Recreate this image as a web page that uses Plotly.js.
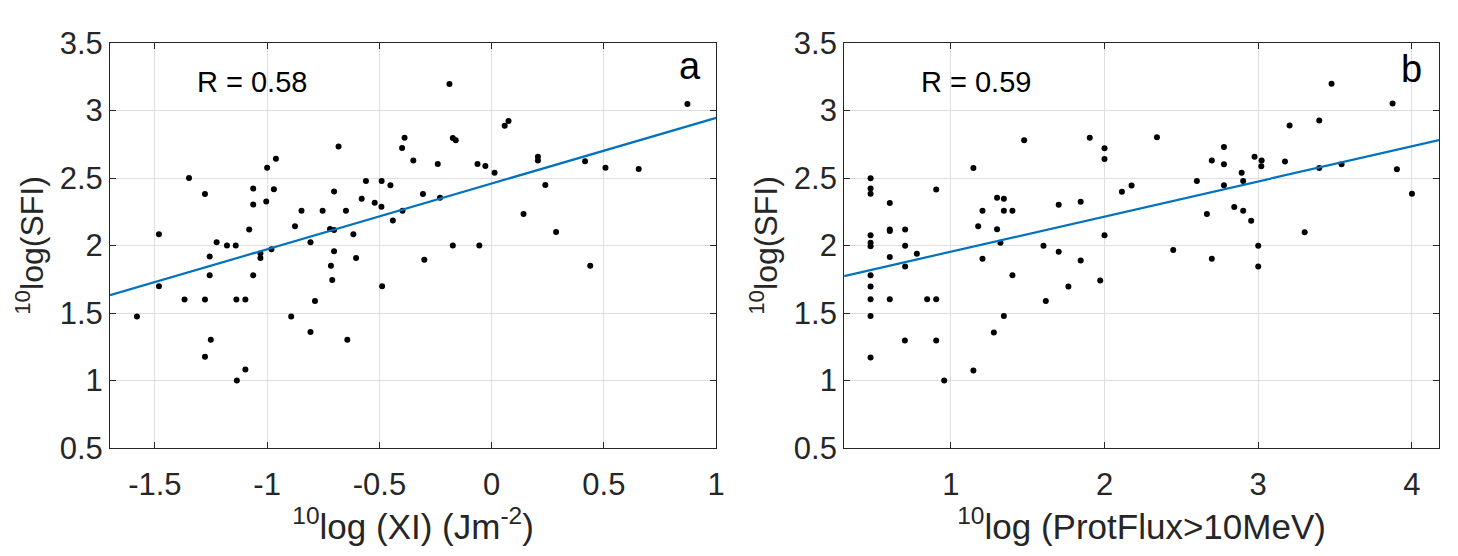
<!DOCTYPE html>
<html>
<head>
<meta charset="utf-8">
<script src="https://cdn.plot.ly/plotly-3.0.1.min.js"></script>
<style>html,body{margin:0;padding:0;background:#fff;}#chart{width:1458px;height:556px;}</style>
</head>
<body>
<div id="chart"></div>
<script>
// Panel a: 10log(XI) vs 10log(SFI)
const xiX = [-1.348,-1.277,-1.482,-1.225,-1.179,-1.140,-1.256,-1.256,-1.080,-1.062,-1.062,-1.062,-1.030,-1.030,-1.004,-1.000,-0.970,-0.961,-0.981,-0.876,-0.847,-0.807,-0.753,-0.682,-0.702,-0.720,-0.702,-0.702,-0.716,-0.710,-0.649,-0.616,-0.604,-0.579,-0.560,-0.521,-0.490,-0.491,-0.451,-0.440,
  -0.397,-0.399,-0.388,-0.349,-0.306,-0.300,-0.240,-0.230,-0.188,-0.173,-0.160,-0.173,-0.063,-0.028,-0.055,0.013,0.058,0.075,0.206,0.206,0.239,0.142,0.287,0.416,0.439,0.507,0.655,0.872,
  -1.482,-1.580,-1.368,-1.277,-1.137,-1.097,-1.251,-1.277,-1.097,-1.135,-0.893,-0.807,-0.787,-0.643,-0.488];
const xiSFI = [2.500,2.382,2.083,2.025,2.000,2.000,1.919,1.780,2.118,2.422,2.304,1.780,1.941,1.907,2.326,2.576,2.417,2.642,1.973,2.142,2.257,2.025,2.257,2.733,2.400,2.123,2.115,1.958,1.850,1.745,2.257,2.083,1.907,2.346,2.478,2.316,2.478,2.287,2.446,2.186,
  2.257,2.723,2.799,2.630,2.382,1.895,2.603,2.353,3.196,2.797,2.779,2.000,2.603,2.588,2.000,2.539,2.887,2.922,2.657,2.630,2.449,2.233,2.100,2.625,1.850,2.576,2.566,3.049,
  1.699,1.475,1.600,1.600,1.600,1.600,1.301,1.176,1.081,1.000,1.475,1.360,1.588,1.301,1.699];
const fitA = {slope: 0.4867, intercept: 2.459};
const labelA = "R = 0.58";

// Panel b: 10log(ProtFlux>10MeV) vs 10log(SFI)
const protX = [0.478,0.478,0.478,0.478,0.478,0.478,0.478,0.478,0.478,0.478,0.478,
  0.603,0.603,0.603,0.603,0.603,
  0.703,0.703,0.703,0.701,0.779,0.846,0.905,0.905,0.905,0.957,
  1.147,1.147,1.178,1.206,1.206,1.301,1.301,1.345,1.345,1.345,1.323,1.280,1.401,1.401,1.477,1.603,1.618,1.702,1.702,1.765,1.845,1.845,1.904,1.972,
  2.000,2.000,2.000,2.113,2.176,2.341,2.447,2.601,2.666,2.698,2.698,2.777,2.777,2.777,2.844,2.892,2.902,2.902,2.954,2.976,
  3.000,3.000,3.022,3.020,3.174,3.204,3.302,3.397,3.397,3.477,3.542,3.874,3.902,4.000];
const protSFI = [2.499,2.423,2.383,2.076,2.020,1.995,1.779,1.697,1.601,1.478,1.170,
  2.314,2.118,2.108,1.914,1.601,
  2.118,1.998,1.845,1.296,1.939,1.601,2.415,1.601,1.296,1.000,
  2.575,1.074,2.143,2.258,1.902,2.354,2.120,2.346,2.258,1.478,2.020,1.355,2.258,1.779,2.779,1.998,1.589,2.302,1.953,1.697,2.324,1.889,2.799,1.740,
  2.720,2.641,2.076,2.398,2.445,2.801,1.966,2.477,2.233,2.629,1.902,2.730,2.602,2.447,2.285,2.538,2.477,2.258,2.184,2.658,
  1.998,1.845,2.629,2.587,2.622,2.889,2.098,2.926,2.575,3.199,2.602,3.052,2.565,2.383];
const fitB = {slope: 0.2602, intercept: 1.694};
const labelB = "R = 0.59";

const xRangeA = [-1.7, 1.0];
const xRangeB = [0.306, 4.176];
const yRange = [0.5, 3.5];
const xTickValsA = [-1.5, -1, -0.5, 0, 0.5, 1];
const xTickTextA = ["-1.5", "-1", "-0.5", "0", "0.5", "1"];
const xTickValsB = [1, 2, 3, 4];
const xTickTextB = ["1", "2", "3", "4"];
const yTickVals = [0.5, 1, 1.5, 2, 2.5, 3, 3.5];
const yTickText = ["0.5", "1", "1.5", "2", "2.5", "3", "3.5"];

const FONT = "'Liberation Sans', Arial, Helvetica, sans-serif";
const TXT = "#262626";

function fitLine(fit, range) {
  return {x: range.slice(), y: range.map(v => fit.intercept + fit.slope * v)};
}
const lineA = fitLine(fitA, xRangeA);
const lineB = fitLine(fitB, xRangeB);

const markerStyle = {color: "#000000", size: 6};
const lineStyle = {color: "#0072BD", width: 2.2};

const traces = [
  {x: xiX, y: xiSFI, type: "scatter", mode: "markers", marker: markerStyle, xaxis: "x", yaxis: "y", hoverinfo: "x+y"},
  {x: lineA.x, y: lineA.y, type: "scatter", mode: "lines", line: lineStyle, xaxis: "x", yaxis: "y"},
  {x: protX, y: protSFI, type: "scatter", mode: "markers", marker: markerStyle, xaxis: "x2", yaxis: "y2"},
  {x: lineB.x, y: lineB.y, type: "scatter", mode: "lines", line: lineStyle, xaxis: "x2", yaxis: "y2"}
];

function axisBase() {
  return {
    showgrid: true, gridcolor: "#dedede", gridwidth: 1,
    zeroline: false,
    showline: true, linecolor: TXT, linewidth: 1, mirror: "ticks",
    ticks: "inside", ticklen: 6, tickcolor: TXT, tickwidth: 1,
    tickfont: {family: FONT, size: 31, color: TXT},
    tickmode: "array",
    fixedrange: true
  };
}

const ML = 110, MR = 18.7, MT = 43, MB = 108;
const plotW = 1458 - ML - MR;
const domA = [0, (716.3 - ML) / plotW];
const domB = [(844.3 - ML) / plotW, 1];

const xTitleFont = {family: FONT, size: 35, color: TXT};
const yTitleFont = {family: FONT, size: 32, color: TXT};

const layout = {
  width: 1458, height: 556,
  margin: {l: ML, r: MR, t: MT, b: MB, pad: 0},
  paper_bgcolor: "#ffffff", plot_bgcolor: "#ffffff",
  showlegend: false,
  xaxis: Object.assign(axisBase(), {domain: domA, range: xRangeA, tickvals: xTickValsA, ticktext: xTickTextA, anchor: "y",
    ticklabelstandoff: 9,
    title: {text: "<sup>10</sup>log (XI) (Jm<sup>-2</sup>)", font: xTitleFont, standoff: 6}}),
  yaxis: Object.assign(axisBase(), {domain: [0, 1], range: yRange, tickvals: yTickVals, ticktext: yTickText, anchor: "x",
    title: {text: "<sup>10</sup>log(SFI)", font: yTitleFont, standoff: 6}}),
  xaxis2: Object.assign(axisBase(), {domain: domB, range: xRangeB, tickvals: xTickValsB, ticktext: xTickTextB, anchor: "y2",
    ticklabelstandoff: 9,
    title: {text: "<sup>10</sup>log (ProtFlux>10MeV)", font: xTitleFont, standoff: 6}}),
  yaxis2: Object.assign(axisBase(), {domain: [0, 1], range: yRange, tickvals: yTickVals, ticktext: yTickText, anchor: "x2",
    title: {text: "<sup>10</sup>log(SFI)", font: yTitleFont, standoff: 6}}),
  annotations: [
    {xref: "x", yref: "y", x: -1.323, y: 3.21, text: labelA, showarrow: false, xanchor: "left", yanchor: "middle", font: {family: FONT, size: 29, color: "#000"}},
    {xref: "x2", yref: "y2", x: 0.792, y: 3.21, text: labelB, showarrow: false, xanchor: "left", yanchor: "middle", font: {family: FONT, size: 29, color: "#000"}},
    {xref: "x", yref: "y", x: 0.824, y: 3.327, text: "a", showarrow: false, xanchor: "left", yanchor: "middle", font: {family: FONT, size: 38, color: "#000"}},
    {xref: "x2", yref: "y2", x: 3.915, y: 3.306, text: "b", showarrow: false, xanchor: "left", yanchor: "middle", font: {family: FONT, size: 38, color: "#000"}}
  ]
};

Plotly.newPlot("chart", traces, layout, {staticPlot: true, displayModeBar: false});
</script>
</body>
</html>
